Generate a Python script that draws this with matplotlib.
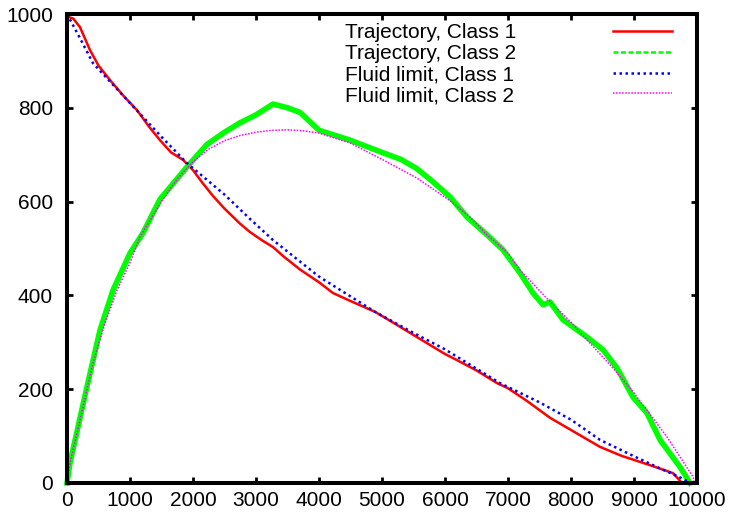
import matplotlib as mpl
mpl.use("Agg")
import matplotlib.pyplot as plt
from matplotlib.lines import Line2D

plt.rcParams["font.family"] = ["Liberation Sans", "DejaVu Sans"]
plt.rcParams["font.size"] = 15

W, H = 739, 514

# trajectory, class 1
traj1_t = [0, 100, 206, 365, 500, 683, 900, 1111, 1300, 1476, 1650, 1841, 2000, 2150,
           2317, 2500, 2746, 2905, 3100, 3270, 3429, 3700, 4000, 4222, 4500, 4889, 5200,
           5556, 6000, 6190, 6500, 6825, 7000, 7300, 7667, 8000, 8460, 8800, 9254, 9619, 9750]
traj1_n = [995, 990, 972, 923, 890, 859, 825, 795, 760, 731, 705, 689, 667, 640,
           612, 585, 553, 535, 517, 503, 484, 455, 428, 405, 388, 365, 340,
           311, 275, 262, 240, 213, 202, 175, 139, 113, 77, 58, 38, 21, 2]

# trajectory, class 2
traj2_t = [0, 48, 317, 524, 730, 1000, 1206, 1476, 1905, 2222, 2500, 2746, 3000, 3270,
           3500, 3700, 4000, 4492, 5016, 5300, 5556, 5810, 6079, 6349, 6667, 6921, 7190,
           7397, 7556, 7667, 7873, 8254, 8508, 8730, 8984, 9206, 9413, 9730, 9889]
traj2_n = [0, 43, 205, 326, 411, 490, 533, 605, 674, 722, 748, 768, 785, 808,
           800, 790, 752, 731, 704, 690, 670, 642, 610, 567, 529, 497, 448,
           405, 380, 386, 348, 311, 284, 245, 183, 149, 92, 34, 0]

# fluid limit, class 1
fluid1_t = [0, 200, 413, 952, 1500, 1905, 2500, 2905, 3270, 4000, 4889, 5500, 6000,
            6873, 7500, 8000, 8460, 9000, 9400, 9700, 9900]
fluid1_n = [1000, 950, 895, 817, 738, 682, 615, 563, 518, 440, 365, 320, 285,
            213, 172, 135, 92, 57, 32, 14, 0]

# fluid limit, class 2
fluid2_t = [0, 48, 200, 413, 600, 794, 1000, 1159, 1500, 1750, 2000, 2250, 2500, 2750,
            3000, 3250, 3500, 3750, 4000, 4492, 5016, 5556, 6100, 6397, 6667, 7000,
            7190, 7714, 8000, 8254, 8667, 9000, 9524, 9937, 9960]
fluid2_n = [0, 43, 130, 256, 340, 411, 470, 525, 600, 648, 685, 712, 730, 741,
            748, 752, 753, 751, 746, 725, 689, 650, 600, 567, 529, 490,
            454, 380, 343, 305, 245, 192, 98, 13, 0]

series = [
    ("Trajectory, Class 1", traj1_t, traj1_n),
    ("Trajectory, Class 2", traj2_t, traj2_n),
    ("Fluid limit, Class 1", fluid1_t, fluid1_n),
    ("Fluid limit, Class 2", fluid2_t, fluid2_n),
]
# line style per series on the plot, and the sample drawn in the key
styles = [
    dict(color="#ff0000", lw=1.8, ls="-"),
    dict(color="#00ff00", lw=4.0, ls="-"),
    dict(color="#0000ff", lw=1.8, ls=(0, (1, 1.4))),
    dict(color="#ff00ff", lw=1.1, ls=(0, (1, 1))),
]
key_styles = [
    dict(color="#ff0000", lw=1.8, ls="-"),
    dict(color="#00ff00", lw=1.8, ls=(0, (2, 1))),
    dict(color="#0000ff", lw=1.8, ls=(0, (1, 1.4))),
    dict(color="#ff00ff", lw=1.1, ls=(0, (1, 1))),
]

fig, ax = plt.subplots(figsize=(W / 100, H / 100), dpi=100)
fig.subplots_adjust(left=67 / W, right=697 / W, bottom=1 - 483 / H, top=1 - 14 / H)

for i, ((label, t, n), st) in enumerate(zip(series, styles)):
    ax.plot(t, n, zorder=2 + 0.1 * i, clip_on=(i != 1), **st)

ax.set_xlim(0, 10000)
ax.set_ylim(0, 1000)
ax.set_xticks(range(0, 10001, 1000))
ax.set_yticks(range(0, 1001, 200))
ax.tick_params(direction="in", length=4.5, width=2, top=True, right=True,
               labelsize=15, color="black")
ax.tick_params(axis="x", pad=6)
ax.tick_params(axis="y", pad=10)
for sp in ax.spines.values():
    sp.set_linewidth(2.9)
    sp.set_zorder(3)

# key, gnuplot style: text left-aligned, sample line on the right
for i, ((label, t, n), st) in enumerate(zip(series, key_styles)):
    base = 38.5 + 20.9 * i
    mid = 31 + 20.8 * i
    fig.text(345 / W, 1 - base / H, label, ha="left", va="baseline", fontsize=15)
    fig.add_artist(Line2D([613 / W, 672 / W], [1 - mid / H, 1 - mid / H],
                          transform=fig.transFigure, **st))

fig.savefig("out.png", dpi=100)
